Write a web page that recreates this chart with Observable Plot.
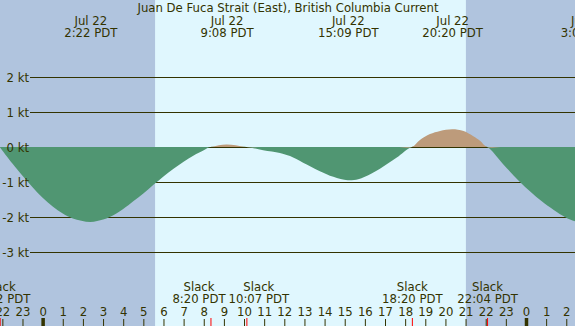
<!DOCTYPE html>
<html>
<head>
<meta charset="utf-8">
<script src="https://cdn.jsdelivr.net/npm/d3@7"></script>
<script src="https://cdn.jsdelivr.net/npm/@observablehq/plot@0.6"></script>
<style>
  html, body { margin: 0; padding: 0; background: #ffffff; overflow: hidden; }
  #chart svg { display: block; }
</style>
</head>
<body>
<div id="chart"></div>
<script>
// ---------- data ----------
const title = "Juan De Fuca Strait (East), British Columbia Current";

// visible time window (month-day HH:MM, PDT)
const viewRange = ["07-21 21:53", "07-23 02:26"];
// daylight (sunrise, sunset)
const sunTimes = ["07-22 05:35", "07-22 21:01"];

// current readings
const curveTimes = [
  "07-21 21:52", "07-21 22:30", "07-21 23:00", "07-21 23:30",
  "07-22 00:00", "07-22 00:30", "07-22 01:00", "07-22 01:30", "07-22 02:22",
  "07-22 03:00", "07-22 03:20", "07-22 04:00", "07-22 04:30", "07-22 05:00",
  "07-22 05:30", "07-22 06:00", "07-22 06:30", "07-22 07:00", "07-22 07:30",
  "07-22 08:00", "07-22 08:20",
  "07-22 08:45", "07-22 09:08", "07-22 09:35", "07-22 10:07",
  "07-22 10:57", "07-22 11:47", "07-22 12:17", "07-22 12:56", "07-22 13:46",
  "07-22 14:26", "07-22 15:09", "07-22 15:40", "07-22 16:00", "07-22 16:45",
  "07-22 17:34", "07-22 18:20",
  "07-22 18:44", "07-22 19:14", "07-22 19:44", "07-22 20:20", "07-22 20:54",
  "07-22 21:23", "07-22 21:43", "07-22 22:04",
  "07-22 22:52", "07-22 23:42", "07-23 00:47", "07-23 01:56", "07-23 02:26",
  "07-23 03:01"
];
const curveKnots = [
  0, -0.47, -0.82, -1.15,
  -1.45, -1.7, -1.9, -2.04, -2.14,
  -2.07, -2.0, -1.77, -1.55, -1.33,
  -1.08, -0.84, -0.62, -0.42, -0.24,
  -0.09, 0,
  0.05, 0.07, 0.05, 0,
  -0.09, -0.17, -0.26, -0.45, -0.69,
  -0.85, -0.95, -0.92, -0.85, -0.62,
  -0.31, 0,
  0.2, 0.37, 0.46, 0.51, 0.46,
  0.31, 0.18, 0,
  -0.49, -1.0, -1.55, -2.0, -2.12,
  -2.19
];

// maximum current events (top labels)
const eventTimes = ["07-22 02:22", "07-22 09:08", "07-22 15:09", "07-22 20:20", "07-23 03:01"];
// slack water events (bottom labels)
const slackTimes = ["07-21 21:52", "07-22 08:20", "07-22 10:07", "07-22 18:20", "07-22 22:04"];

// speed axis ticks (knots)
const speedTicks = [-3, -2, -1, 0, 1, 2];
const speedDomain = [-5.114, 4.2];

// ---------- styling ----------
const W = 575, H = 326;
const FS = 11.7;
const FONT = "DejaVu Sans";
const ink = "#333300";
const nightColor = "#b0c4de";
const dayColor = "#e0f7fe";
const ebbColor = "#509672";
const floodColor = "#bd9b7b";

// ---------- helpers ----------
const monthNames = ["Jan","Feb","Mar","Apr","May","Jun","Jul","Aug","Sep","Oct","Nov","Dec"];
function parseT(s) {
  const [md, hm] = s.split(" ");
  const day = +md.split("-")[1];
  const [hh, mm] = hm.split(":").map(Number);
  return (day - 22) * 24 + hh + mm / 60; // hours since Jul 22 00:00
}
function fmtClock(s) {
  const [hh, mm] = s.split(" ")[1].split(":");
  return `${+hh}:${mm} PDT`;
}
function fmtDate(s) {
  const [m, d] = s.split(" ")[0].split("-").map(Number);
  return `${monthNames[m - 1]} ${d}`;
}

const xDomain = viewRange.map(parseT);
const curve = curveTimes.map((t, i) => ({h: parseT(t), v: curveKnots[i]}));
const daylight = [{rise: parseT(sunTimes[0]), set: parseT(sunTimes[1])}];
const events = eventTimes.map(t => ({h: parseT(t), date: fmtDate(t), time: fmtClock(t)}));

const hours = d3.range(Math.ceil(xDomain[0]), Math.floor(xDomain[1]) + 1);
const midnights = hours.filter(h => ((h % 24) + 24) % 24 === 0);

// slack labels, pushed apart (in hours) where they would overlap
const ctx = document.createElement("canvas").getContext("2d");
ctx.font = `${FS}px "${FONT}"`;
const pxPerHour = W / (xDomain[1] - xDomain[0]);
const slacks = slackTimes.map(t => ({h: parseT(t), time: fmtClock(t)}));
slacks.forEach(r => {
  r.w = Math.max(ctx.measureText("Slack").width, ctx.measureText(r.time).width) / pxPerHour;
  r.lx = r.h;
});
for (let i = 1; i < slacks.length; i++) {
  const a = slacks[i - 1], b = slacks[i];
  const need = a.w / 2 + b.w / 2 + 3 / pxPerHour;
  const sep = b.lx - a.lx;
  if (sep < need) { const d = (need - sep) / 2; a.lx -= d; b.lx += d; }
}

const textBase = {fill: ink, fontSize: FS, fontFamily: FONT, lineAnchor: "middle"};

const chart = Plot.plot({
  width: W,
  height: H,
  margin: 0,
  x: {domain: xDomain, axis: null},
  y: {domain: speedDomain, axis: null},
  style: {background: nightColor, fontFamily: FONT, fontSize: `${FS}px`, color: ink},
  marks: [
    // daylight band
    Plot.rect(daylight, {x1: "rise", x2: "set", y1: () => speedDomain[0], y2: () => speedDomain[1], fill: dayColor}),
    // speed grid lines
    Plot.ruleY(speedTicks, {y: d => d, stroke: ink, strokeWidth: 1, insetLeft: 30}),
    // ebb (negative) and flood (positive) fills
    Plot.areaY(curve, {x: "h", y1: 0, y2: d => Math.min(d.v, 0), fill: ebbColor, curve: "catmull-rom"}),
    Plot.areaY(curve, {x: "h", y1: 0, y2: d => Math.max(d.v, 0), fill: floodColor, curve: "catmull-rom"}),
    // speed labels
    Plot.text(speedTicks, {...textBase, y: d => d, text: d => `${d} kt`, frameAnchor: "left", textAnchor: "end", dx: 28.5, dy: 1}),
    // title
    Plot.text([title], {...textBase, text: d => d, frameAnchor: "top", dy: 7.3}),
    // max current labels
    Plot.text(events, {...textBase, x: "h", text: "date", frameAnchor: "top", dy: 20.3}),
    Plot.text(events, {...textBase, x: "h", text: "time", frameAnchor: "top", dy: 32.3}),
    // slack labels
    Plot.text(slacks, {...textBase, x: "lx", text: () => "Slack", frameAnchor: "bottom", dy: -39}),
    Plot.text(slacks, {...textBase, x: "lx", text: "time", frameAnchor: "bottom", dy: -27}),
    // hour labels
    Plot.text(hours, {...textBase, x: d => d, text: d => String(((d % 24) + 24) % 24), frameAnchor: "bottom", dy: -14.5}),
    // hour ticks
    Plot.ruleX(hours, {x: d => d, stroke: ink, strokeWidth: 1, insetTop: 319}),
    Plot.ruleX(midnights, {x: d => d, stroke: ink, strokeWidth: 3.5, insetTop: 318}),
    Plot.ruleX(slacks, {x: "h", stroke: "#ff0000", strokeWidth: 1, insetTop: 318})
  ]
});

document.getElementById("chart").appendChild(chart);
</script>
</body>
</html>
